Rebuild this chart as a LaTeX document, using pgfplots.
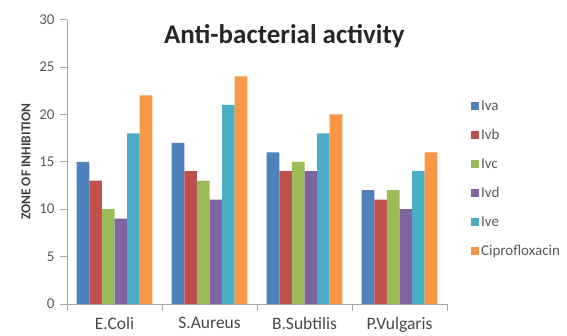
\documentclass[border=0pt]{standalone}
\usepackage{pgfplots}
\pgfplotsset{compat=1.18}
\usepackage{fontspec}
\setmainfont{Carlito}
\definecolor{cA}{HTML}{4F81BD}
\definecolor{cB}{HTML}{C0504D}
\definecolor{cC}{HTML}{9BBB59}
\definecolor{cD}{HTML}{8064A2}
\definecolor{cE}{HTML}{4BACC6}
\definecolor{cF}{HTML}{F79646}
\definecolor{axgray}{HTML}{A6A6A6}
\definecolor{txgray}{HTML}{595959}
\begin{document}
\begin{tikzpicture}[x=1pt,y=1pt]
\begin{axis}[
  name=ax,
  scale only axis,
  width=380pt, height=284.5pt,
  xmin=-0.5, xmax=3.5,
  ymin=0, ymax=30,
  ytick={0,5,...,30},
  axis lines*=left,
  axis line style={draw=axgray, line width=0.8pt},
  every tick/.style={draw=axgray, line width=0.8pt},
  tick align=outside,
  major tick length=7pt,
  xtick={-0.5,0.5,1.5,2.5,3.5},
  xticklabels={},
  extra x ticks={0,1,2,3},
  extra x tick labels={E.Coli,S.Aureus,B.Subtilis,P.Vulgaris},
  extra x tick style={major tick length=0pt, tick label style={font=\fontsize{17.5}{19}\selectfont, text=txgray!80!black, yshift=-9.5pt}},
  y tick label style={font=\fontsize{15}{17}\selectfont, text=txgray, xshift=-2pt},
  /pgf/number format/assume math mode=true,
  ylabel={\textbf{ZONE OF INHIBITION}},
  ylabel style={font=\fontsize{13.5}{15}\selectfont, text=txgray!70!black, yshift=2pt},
  ybar=0pt,
  bar width=12.6pt,
  clip=false,
  legend style={draw=none, at={(rel axis cs:1.055,0.73)}, anchor=north west,
    font=\fontsize{15}{17}\selectfont, text=txgray, row sep=13.5pt, fill=none},
  legend image code/.code={\draw[#1, draw=none] (0pt,-4pt) rectangle (8pt,4pt);},
  legend cell align=left,
]
\addplot[fill=cA, draw=none] coordinates {(0,15) (1,17) (2,16) (3,12)};
\addplot[fill=cB, draw=none] coordinates {(0,13) (1,14) (2,14) (3,11)};
\addplot[fill=cC, draw=none] coordinates {(0,10) (1,13) (2,15) (3,12)};
\addplot[fill=cD, draw=none] coordinates {(0,9) (1,11) (2,14) (3,10)};
\addplot[fill=cE, draw=none] coordinates {(0,18) (1,21) (2,18) (3,14)};
\addplot[fill=cF, draw=none] coordinates {(0,22) (1,24) (2,20) (3,16)};
\legend{Iva,Ivb,Ivc,Ivd,Ive,Ciprofloxacin}
\node[font=\bfseries\fontsize{27}{30}\selectfont, text=black!85] at (rel axis cs:0.572,0.94) {Anti-bacterial activity};
\end{axis}
\pgfresetboundingbox
\path[use as bounding box] ([xshift=-67pt,yshift=-31pt]ax.south west) rectangle ++(567pt,335pt);
\end{tikzpicture}
\end{document}
